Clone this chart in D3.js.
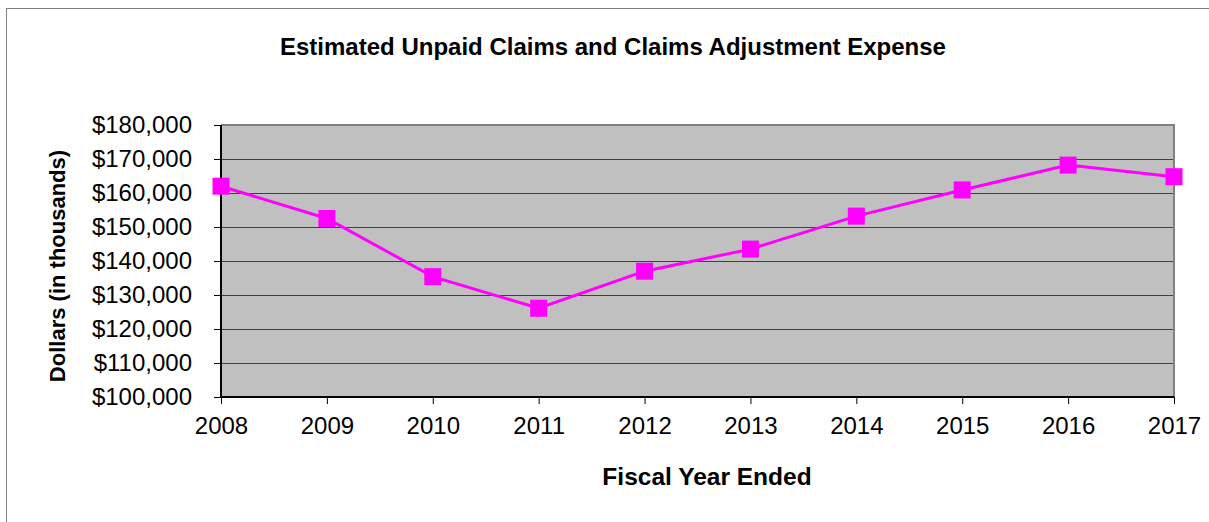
<!DOCTYPE html>
<html><head><meta charset="utf-8">
<script src="https://cdn.jsdelivr.net/npm/d3@7"></script>
<style>body{margin:0;background:#fff}svg{display:block}text{font-family:"Liberation Sans",Arial,sans-serif}</style>
</head><body><svg id="c" width="1209" height="522"></svg>
<script>
const years = ["2008","2009","2010","2011","2012","2013","2014","2015","2016","2017"];
const values = [162000,152500,135400,126100,137000,143500,153200,160900,168200,164800];
const yTicks = [100000,110000,120000,130000,140000,150000,160000,170000,180000];
const title = "Estimated Unpaid Claims and Claims Adjustment Expense";
const xTitle = "Fiscal Year Ended";
const yTitle = "Dollars (in thousands)";

const svg = d3.select("#c");
const L=221,R=1174,T=125,B=397;
svg.append("rect").attr("x",6.5).attr("y",8.5).attr("width",1220).attr("height",540).attr("fill","none").attr("stroke","#808080").attr("stroke-width",1);

const x = d3.scalePoint().domain(years).range([L,R]);
const y = d3.scaleLinear().domain([100000,180000]).range([B,T]);

svg.append("rect").attr("x",L).attr("y",T).attr("width",R-L).attr("height",B-T).attr("fill","#c0c0c0");
svg.append("g").selectAll("line").data(yTicks.slice(1,-1)).join("line")
  .attr("x1",L).attr("x2",R).attr("y1",d=>Math.round(y(d))+0.5).attr("y2",d=>Math.round(y(d))+0.5)
  .attr("stroke","#404040").attr("stroke-width",1);
svg.append("path").attr("d",`M${L},${T} H${R} V${B}`).attr("fill","none").attr("stroke","#808080").attr("stroke-width",2);

const yAxis = svg.append("g").attr("transform",`translate(${L},0)`)
  .call(d3.axisLeft(y).tickValues(yTicks).tickSize(7).tickPadding(22).tickFormat(d=>"$"+d3.format(",")(d)));
const xAxis = svg.append("g").attr("transform",`translate(0,${B})`)
  .call(d3.axisBottom(x).tickSize(7).tickPadding(13));
[yAxis,xAxis].forEach(g=>{
  g.select(".domain").attr("stroke","#000").attr("stroke-width",2);
  g.selectAll(".tick line").attr("stroke","#000");
  g.selectAll(".tick text").attr("font-size",24).attr("fill","#000").attr("font-family","Liberation Sans, Arial, sans-serif");
});
xAxis.select(".domain").attr("d",`M${L},0H${R}`);
yAxis.select(".domain").attr("d",`M0,${B}V${T}`);

svg.append("path").datum(values.map((v,i)=>[x(years[i]),y(v)]))
  .attr("d",d3.line()).attr("fill","none").attr("stroke","#ff00ff").attr("stroke-width",3);
svg.append("g").selectAll("rect").data(values).join("rect")
  .attr("x",(d,i)=>x(years[i])-8.5).attr("y",d=>y(d)-8.5).attr("width",17).attr("height",17).attr("fill","#ff00ff");

svg.append("text").attr("x",613).attr("y",55).attr("text-anchor","middle").attr("font-size",24).attr("font-weight","bold").text(title);
svg.append("text").attr("x",707).attr("y",485).attr("text-anchor","middle").attr("font-size",24.5).attr("font-weight","bold").text(xTitle);
svg.append("text").attr("transform","translate(65,266) rotate(-90)").attr("text-anchor","middle").attr("font-size",22).attr("font-weight","bold").text(yTitle);
</script></body></html>
